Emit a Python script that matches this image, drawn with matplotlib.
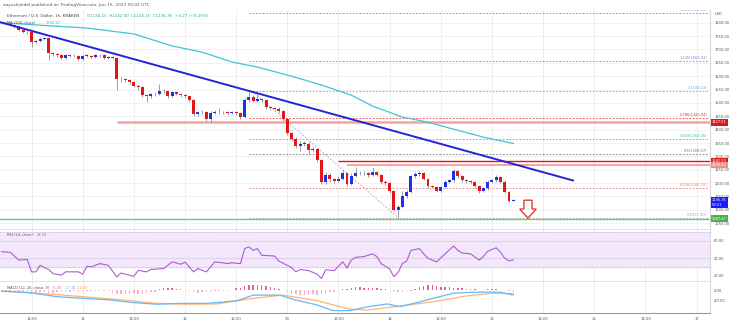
import numpy as np
import matplotlib.pyplot as plt
from matplotlib.patches import Polygon
from matplotlib.transforms import blended_transform_factory

# hourly candles, hour 0 = Jun 10 00:00 UTC
hours = np.arange(5, 126)
open_first = 1802
closes = [1798, 1800, 1793, 1786, 1774, 1766, 1764, 1728, 1730, 1740,
          1742, 1686, 1682, 1678, 1668, 1678, 1675, 1676, 1664, 1676,
          1676, 1672, 1678, 1680, 1668, 1670, 1668, 1590, 1588, 1585,
          1578, 1565, 1558, 1530, 1524, 1532, 1533, 1545, 1543, 1526,
          1540, 1533, 1528, 1524, 1512, 1458, 1465, 1466, 1440, 1464,
          1466, 1466, 1465, 1462, 1465, 1462, 1446, 1512, 1522, 1508,
          1515, 1510, 1483, 1480, 1479, 1470, 1440, 1388, 1366, 1340,
          1348, 1348, 1325, 1326, 1288, 1206, 1232, 1215, 1208, 1216,
          1236, 1196, 1228, 1236, 1237, 1237, 1230, 1240, 1232, 1205,
          1200, 1170, 1100, 1112, 1150, 1168, 1225, 1234, 1238, 1215,
          1188, 1186, 1172, 1186, 1205, 1210, 1246, 1226, 1210, 1208,
          1205, 1188, 1170, 1180, 1206, 1210, 1222, 1206, 1168, 1134.15,
          1136.76]
highs = [1806, 1804, 1802, 1795, 1788, 1777, 1770, 1766, 1736, 1745,
         1748, 1744, 1690, 1686, 1682, 1682, 1684, 1682, 1679, 1680,
         1682, 1680, 1682, 1684, 1683, 1675, 1674, 1670, 1598, 1594,
         1588, 1582, 1570, 1562, 1535, 1538, 1540, 1570, 1552, 1546,
         1546, 1544, 1537, 1532, 1527, 1515, 1470, 1472, 1468, 1468,
         1472, 1480, 1470, 1470, 1470, 1468, 1465, 1518, 1544.13, 1530,
         1533, 1520, 1513, 1488, 1486, 1484, 1472, 1445, 1392, 1372,
         1356, 1356, 1352, 1334, 1330, 1292, 1240, 1236, 1220, 1225,
         1250, 1240, 1238, 1262, 1244, 1244, 1240, 1262, 1244, 1235,
         1210, 1204, 1172, 1118, 1170, 1175, 1232, 1240, 1244, 1242,
         1218, 1192, 1190, 1190, 1210, 1216, 1254, 1250, 1230, 1214,
         1212, 1208, 1190, 1186, 1212, 1216, 1230, 1226, 1210, 1170,
         1142]
lows = [1795, 1794, 1790, 1782, 1770, 1760, 1758, 1709, 1722, 1726,
        1735, 1660, 1675, 1672, 1664, 1664, 1670, 1670, 1656, 1660,
        1671, 1668, 1668, 1673, 1664, 1664, 1663, 1548, 1580, 1578,
        1570, 1558, 1550, 1522, 1503, 1518, 1527, 1530, 1538, 1520,
        1522, 1528, 1522, 1518, 1505, 1452, 1450, 1458, 1432, 1428,
        1458, 1460, 1459, 1456, 1458, 1456, 1440, 1442, 1505, 1502,
        1504, 1504, 1478, 1474, 1472, 1462, 1432, 1380, 1358, 1332,
        1320, 1338, 1310, 1318, 1280, 1198, 1198, 1205, 1200, 1204,
        1212, 1188, 1192, 1224, 1230, 1230, 1224, 1226, 1226, 1198,
        1192, 1162, 1094, 1071, 1108, 1145, 1164, 1220, 1228, 1210,
        1182, 1180, 1165, 1168, 1182, 1200, 1206, 1220, 1204, 1202,
        1198, 1182, 1163, 1166, 1176, 1200, 1205, 1200, 1162, 1128,
        1134.15]

# MA(100)
ma_hours = [4.6, 25, 36, 45, 52, 59, 65, 73, 80, 87, 92, 99, 105, 110, 118, 125]
ma_vals = [1800, 1780, 1758, 1713, 1690, 1653, 1634, 1600, 1567, 1529, 1488, 1447, 1428, 1406, 1372, 1348.3]

# trend line end points
trend_hours = [4.6, 139]
trend_vals = [1802, 1210]

# fibonacci levels
fib_names = ['1.618', '1.236', '1', '0.786', '0.618', '0.5', '0.236', '0']
fib_vals = [1836.53, 1655.32, 1544.13, 1442.94, 1364.36, 1308.57, 1182.70, 1071.00]
fib_colors = ['#a56fd8', '#a56fd8', '#5fb3e0', '#e53935', '#3cc88a', '#777777', '#ef7a7a', '#9e9e9e']
fib_start = 63

# support / resistance
res1, res1_start = 1427.01, 32
res2, res2_start = 1282.59, 84
res3, res3_start = 1268.43, 86
support = 1067.47

rsi_hours = [5, 7, 9, 11, 12, 13, 14, 16, 17, 19, 20, 23, 24, 25, 26, 28, 30, 32, 33, 36,
             37, 39, 40, 43, 45, 47, 48, 50, 51, 53, 55, 58, 59, 61, 62, 63, 64, 65, 66, 69,
             70, 73, 74, 75, 77, 79, 80, 81, 83, 85, 86, 87, 88, 90, 92, 93, 94, 96, 97, 98,
             99, 100, 101, 103, 104, 105, 107, 109, 111, 112, 113, 115, 117, 118, 119, 121,
             122, 123, 124, 125]
rsi_vals = [47.5, 46.8, 38, 38.7, 24.6, 24.6, 32, 27.3, 22.7, 20.8, 24.6, 24.6, 22, 31, 30.3, 34, 32, 18.8, 23.3, 19.5,
            26.3, 24.6, 27.3, 28.4, 36, 33.3, 35.6, 24.6, 28.4, 24.6, 36, 34, 34.9, 34, 51, 53, 49, 51, 43.4, 42.6,
            36.9, 29.4, 24.6, 27.3, 26, 22, 17, 27, 26, 36, 29, 38, 41, 42, 45, 42, 34, 28, 19, 24,
            34, 37, 49, 51, 45, 40, 36, 45, 54, 49, 46, 45, 38, 42, 48, 52,
            47, 40, 37, 38.33]

hist = [-3, -4, -5, -6, -7, -8, -8, -10, -9, -7,
        -6, -10, -9, -8, -7, -5, -5, -4, -5, -3,
        -3, -3, -2, -2, -3, -4, -10, -14, -14, -12,
        -12, -11, -13, -12, -10, -8, -6, 4, 7, 8,
        7, 6, 4, 2, -2, -8, -9, -8, -8, -6,
        -4, -3, -2, -1, 3, 8, 10, 16, 19, 20,
        19, 18, 15, 12, 9, 6, 2, -6, -12, -15,
        -17, -16, -17, -15, -16, -14, -10, -8, -5, 1,
        5, 6, 9, 11, 12, 10, 9, 8, 8, 6,
        4, 2, -3, -6, -5, -3, -1, 6, 12, 16,
        19, 18, 16, 14, 12, 13, 10, 9, 8, 6,
        5, 4, 3, 2, 4, 4, 4, 3, 1, -3,
        -5]
macd_hours = [5, 11.6, 18, 24, 30.4, 35.8, 41.4, 46.8, 53.2, 60.2, 64, 70.3, 73.4, 79, 82.7, 86.7,
              90.7, 95.4, 98.4, 102.4, 106.2, 110.9, 115.6, 121.9, 125]
macd_vals = [-3, -9, -24, -30, -36, -46, -52, -49, -49, -39, -18, -18, -34, -55, -76, -76,
             -62, -51, -61, -46, -30, -11, -7, -7, -17.48]
signal_hours = [5, 16.3, 24, 32, 41.4, 48.5, 55.5, 64, 71, 79, 86.7, 90.7, 98.4, 106.2, 114, 120.2, 125]
signal_vals = [-3, -14, -24, -34, -49, -52, -51, -30, -18, -39, -71, -74, -59, -43, -21, -11, -12.49]

tick_hours = [12, 24, 36, 48, 60, 72, 84, 96, 108, 120, 132, 144, 156, 168]
tick_labels = ['12:00', '11', '12:00', '12', '12:00', '13', '12:00', '14', '12:00', '15',
               '12:00', '16', '12:00', '17']

up_col = '#1f2ff0'
down_col = '#e0161b'
grid_col = '#ebebeb'
txt_col = '#555555'

W, H = 734, 324
fig = plt.figure(figsize=(W / 100, H / 100), dpi=100)
x0, x1 = 0, 710 / W
ax = fig.add_axes([x0, 1 - 229 / H, x1, 219 / H])
ax_rsi = fig.add_axes([x0, 1 - 281 / H, x1, 52 / H], sharex=ax)
ax_macd = fig.add_axes([x0, 1 - 313 / H, x1, 32 / H], sharex=ax)

for a in (ax, ax_rsi, ax_macd):
    for s in ('left', 'top', 'bottom'):
        a.spines[s].set_visible(False)
    a.spines['right'].set_color('#d6d6d6')
    a.spines['right'].set_linewidth(0.8)
    a.yaxis.tick_right()
    a.tick_params(axis='y', length=0, pad=3, labelsize=2.6, labelcolor=txt_col)
    a.tick_params(axis='x', length=0)
    for t in tick_hours:
        a.axvline(t, color=grid_col, lw=0.6, zorder=0)
for a in (ax_rsi, ax_macd):
    a.spines['top'].set_visible(True)
    a.spines['top'].set_color('#dcdcdc')
    a.spines['top'].set_linewidth(0.6)
ax_macd.spines['bottom'].set_visible(True)
ax_macd.spines['bottom'].set_color('#9a9a9a')
ax_macd.spines['bottom'].set_linewidth(0.8)

ax.set_xlim(4.6, 171.15)
ax.set_ylim(1028.4, 1847.5)
yt = np.arange(1050, 1801, 50)
ax.set_yticks(yt)
ax.set_yticklabels(['%.2f' % v for v in yt])
for v in yt:
    ax.axhline(v, color='#f0f0f0', lw=0.6, zorder=0)
plt.setp(ax.get_xticklabels(), visible=False)
plt.setp(ax_rsi.get_xticklabels(), visible=False)

# candles
opens = [open_first] + closes[:-1]
o = np.array(opens, float)
c = np.array(closes, float)
hi = np.array(highs, float)
lo = np.array(lows, float)
cols = np.where(c >= o, up_col, down_col)
ax.vlines(hours, lo, hi, color='#7a7a7a', lw=0.5, zorder=3)
body = np.maximum(np.abs(c - o), 1.6)
ax.bar(hours, body, bottom=np.minimum(o, c), width=0.7, color=cols, zorder=4)

# MA and trend line
ax.plot(ma_hours, ma_vals, color='#40c4d8', lw=0.9, zorder=5)
ax.plot(trend_hours, trend_vals, color='#2323d8', lw=1.4, zorder=5)

# fibonacci
for n, v, col in zip(fib_names, fib_vals, fib_colors):
    ax.hlines(v, fib_start, 170.6, colors=col, lw=0.6, linestyles=(0, (2, 2)), zorder=2)
    ax.text(170.5, v + 4, '%s(%.2f)' % (n, v), color=col, fontsize=2.6,
            ha='right', va='bottom', zorder=6, clip_on=True)
ax.plot([63.7, 98], [fib_vals[2], fib_vals[7]], color='#a8a8a8', lw=0.6,
        ls=(0, (2, 2)), zorder=2)

# resistance / support lines
ax.hlines(res1, res1_start, 171.15, colors='#f4a3a3', lw=1.8, zorder=1)
ax.hlines(res2, res2_start, 171.15, colors='#e0161b', lw=1.0, zorder=2)
ax.hlines(res3, res3_start, 171.15, colors='#f4a3a3', lw=1.4, zorder=2)
ax.axhline(support, color='#7cc47f', lw=1.0, zorder=2)

# down arrow
arrow = Polygon([(127.5, 1136), (129.4, 1136), (129.4, 1103), (130.4, 1103),
                 (128.45, 1069), (126.5, 1103), (127.5, 1103)], closed=True,
                facecolor='white', edgecolor='#e53935', lw=1.0, zorder=6)
ax.add_patch(arrow)

# price tags on the axis
tr = blended_transform_factory(ax.transAxes, ax.transData)
tags = [(res1, '1427.01', '#e0161b', 'center'),
        (res2, '1282.59', '#e0161b', 'center'),
        (res3, '1268.43', '#f28b8b', 'center'),
        (1136.76 + 8, '1136.76\n59:21', '#1a1aff', 'top'),
        (support, '1067.47', '#4caf50', 'center')]
for v, s, bg, va in tags:
    ax.text(1.003, v, s, transform=tr, fontsize=2.6, color='white', ha='left', va=va,
            clip_on=False, zorder=10, linespacing=1.4,
            bbox=dict(boxstyle='square,pad=0.3', fc=bg, ec='none'))
ax.text(1.006, 1832, 'USD', transform=tr, fontsize=2.6, color=txt_col, ha='left', va='center')

# RSI
ax_rsi.set_ylim(14.2, 73.3)
ax_rsi.axhspan(30, 70, color='#f3e7fb', zorder=0)
ax_rsi.axhline(30, color='#bda7cf', lw=0.5, ls=(0, (2, 2)))
ax_rsi.axhline(70, color='#bda7cf', lw=0.5, ls=(0, (2, 2)))
for v in (60, 40):
    ax_rsi.axhline(v, color='#d9cde3', lw=0.6, zorder=1)
ax_rsi.plot(rsi_hours, rsi_vals, color='#ad5bd0', lw=0.8, zorder=3)
ax_rsi.set_yticks([60, 40, 20])
ax_rsi.set_yticklabels(['60.00', '40.00', '20.00'])

# MACD
ax_macd.set_ylim(-84.9, 34.8)
hcols = ['#ee5d97' if v >= 0 else '#f6b2cb' for v in hist]
ax_macd.bar(hours, hist, width=0.35, color=hcols, zorder=2)
ax_macd.plot(signal_hours, signal_vals, color='#ffb570', lw=0.9, zorder=3)
ax_macd.plot(macd_hours, macd_vals, color='#6ab7f5', lw=0.9, zorder=4)
ax_macd.set_yticks([0, -40])
ax_macd.set_yticklabels(['0.00', '-40.00'])
ax_macd.set_xticks(tick_hours)
ax_macd.set_xticklabels(tick_labels)
ax_macd.tick_params(axis='x', labelsize=2.7, labelcolor=txt_col, pad=3)

# header and legends
fig.text(3 / W, 1 - 5 / H, 'aayushjindal published on TradingView.com, Jun 15, 2022 05:02 UTC',
         fontsize=3.1, color=txt_col, va='center')
fig.text(7 / W, 1 - 15.7 / H, 'Ethereum / U.S. Dollar, 1h, KRAKEN', fontsize=3.0,
         color='#444444', va='center')
fig.text(87 / W, 1 - 15.7 / H, 'O1134.15  H1142.00  L1134.15  C1136.76  +3.27 (+0.29%)',
         fontsize=3.0, color='#26a69a', va='center')
fig.text(7 / W, 1 - 23 / H, 'MA (100, close)', fontsize=2.6, color=txt_col, va='center', zorder=10)
fig.text(46 / W, 1 - 23 / H, '1348.30', fontsize=2.6, color='#40c4d8', va='center', zorder=10)
fig.text(7 / W, 1 - 235 / H, 'RSI (14, close)', fontsize=2.6, color=txt_col, va='center')
fig.text(37 / W, 1 - 235 / H, '38.33', fontsize=2.6, color='#ad5bd0', va='center')
fig.text(7 / W, 1 - 288 / H, 'MACD (12, 26, close, 9)', fontsize=2.6, color=txt_col, va='center')
fig.text(53 / W, 1 - 288 / H, '-5.00', fontsize=2.6, color='#ee5d97', va='center')
fig.text(65 / W, 1 - 288 / H, '-17.48', fontsize=2.6, color='#6ab7f5', va='center')
fig.text(77 / W, 1 - 288 / H, '-12.49', fontsize=2.6, color='#ff9f43', va='center')

fig.savefig('out.png', dpi=100, facecolor='white')
